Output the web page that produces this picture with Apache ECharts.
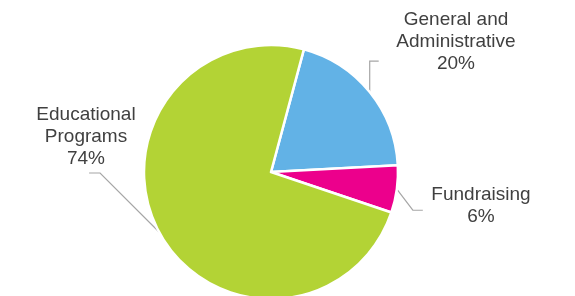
<!DOCTYPE html>
<html lang="en">
  <head>
    <meta charset="UTF-8" />
    <script src="https://cdn.jsdelivr.net/npm/echarts@6/dist/echarts.min.js"></script>
    <title>Expenses</title>
  </head>
  <body style="margin: 0">
    <div id="app" style="width: 575px; height: 296px"></div>

    <script>
      const categories = ["General and\nAdministrative", "Fundraising", "Educational\nPrograms"];
      const values = [20, 6, 74];
      const colors = ["#62b2e6", "#ec008c", "#b3d335"];

      // label centres and the bent leader lines (offsets from the slice anchor)
      const labelPos = [
        { x: 456, y: 42, line: [[0, -31], [9, -31]] },
        { x: 481, y: 206, line: [[16, 21], [26, 21]] },
        { x: 86, y: 137, line: [[-59, -59], [-70, -59]] },
      ];

      const chart = echarts.init(document.getElementById("app"));

      chart.setOption({
        backgroundColor: "#fff",
        animation: false,
        series: [
          {
            type: "pie",
            center: [271, 172],
            radius: 127,
            startAngle: 75,
            clockwise: true,
            data: categories.map((name, i) => ({
              name: name,
              value: values[i],
              itemStyle: { color: colors[i] },
            })),
            itemStyle: { borderColor: "#fff", borderWidth: 2.5 },
            label: {
              show: true,
              formatter: "{b}\n{c}%",
              fontFamily: "Liberation Sans, Arial",
              fontSize: 19,
              lineHeight: 22,
              color: "#404040",
              align: "center",
            },
            labelLine: {
              show: true,
              lineStyle: { color: "#a6a6a6", width: 1.2 },
            },
            labelLayout: function (params) {
              const p = labelPos[params.dataIndex];
              const out = { x: p.x, y: p.y, align: "center", verticalAlign: "middle" };
              if (params.labelLinePoints) {
                const a = params.labelLinePoints[0];
                out.labelLinePoints = [a].concat(p.line.map((d) => [a[0] + d[0], a[1] + d[1]]));
              }
              return out;
            },
            emphasis: { disabled: true },
          },
        ],
      });
    </script>
  </body>
</html>
